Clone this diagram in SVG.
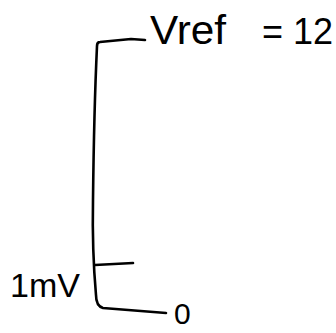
<svg xmlns="http://www.w3.org/2000/svg" width="336" height="333" viewBox="0 0 336 333">
<style>
.ln{fill:none;stroke:#000;stroke-width:2.6;stroke-linecap:round;stroke-linejoin:round}
.t{font-family:"Liberation Sans",sans-serif;fill:#000;font-weight:300}
</style>
<rect width="336" height="333" fill="#fff"/>
<g id="scale">
<path class="ln" d="M145,40 L131,39 L100,42 Q97,42 97,46 Q94,110 93,200 Q92,250 96,295 Q96,306 103,308 L166,313"/>
<path class="ln" d="M95,265 L133,263"/>
</g>
<g id="top-label"><text class="t" x="150" y="44" font-size="40" textLength="76" lengthAdjust="spacingAndGlyphs">Vref</text>
<text class="t" x="262" y="44" font-size="36">= 12</text></g>
<g id="mid-label"><text class="t" x="10" y="297" font-size="34" textLength="70" lengthAdjust="spacingAndGlyphs">1mV</text></g>
<g id="zero-label"><text class="t" x="174" y="324" font-size="30">0</text></g>
</svg>
